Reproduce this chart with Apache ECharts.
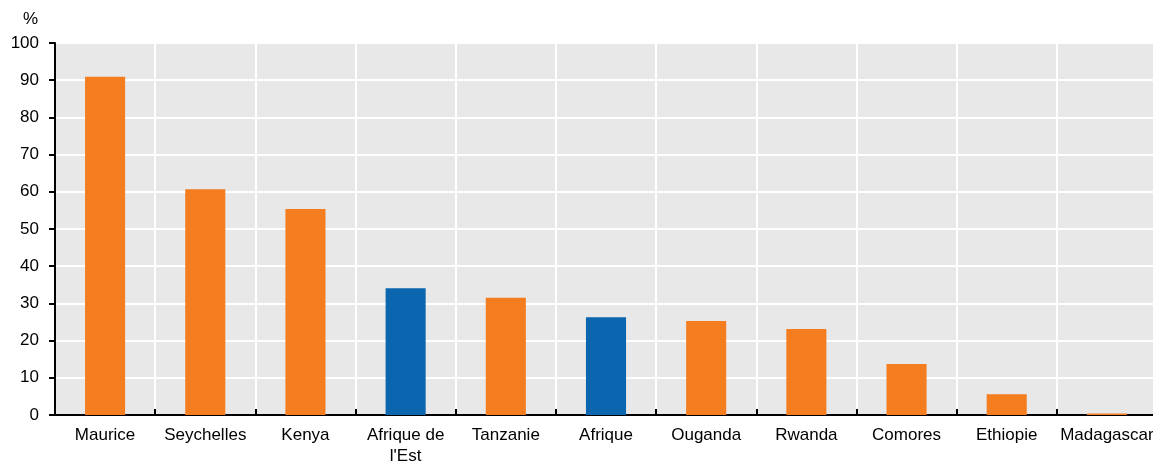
<!DOCTYPE html>
<html><head><meta charset="utf-8">
<script src="https://cdn.jsdelivr.net/npm/echarts@6/dist/echarts.min.js"></script>
<style>html,body{margin:0;padding:0;background:#fff}#c{width:1153px;height:463px}</style>
</head><body><div id="c"></div>
<script>
const categories = ["Maurice","Seychelles","Kenya","Afrique de\nl'Est","Tanzanie","Afrique","Ouganda","Rwanda","Comores","Ethiopie","Madagascar"];
const values = [90.9, 60.7, 55.4, 34.1, 31.5, 26.3, 25.3, 23.1, 13.7, 5.6, 0.4];
const isRegion = [false,false,false,true,false,true,false,false,false,false,false];
const yTicks = {min:0, max:100, interval:10};
const ORANGE = '#F47D20', BLUE = '#0B66AF';
const FONT = '"Liberation Sans Narrow", "Liberation Sans", Arial, sans-serif';
const chart = echarts.init(document.getElementById('c'));
chart.setOption({
  animation:false,
  grid:{left:55, top:43, width:1102, height:372, show:true, backgroundColor:'#e8e8e8', borderWidth:0,
        containLabel:false, outerBoundsMode:'none'},
  graphic:[{type:'text', left:23, top:11, style:{text:'%', font:'17px '+FONT, fill:'#000'}}],
  xAxis:{type:'category', data:categories,
    axisLine:{lineStyle:{color:'#000', width:2}},
    axisTick:{show:true, inside:true, length:6, lineStyle:{color:'#000', width:2}},
    axisLabel:{color:'#000', fontSize:17, fontFamily:FONT, margin:10, lineHeight:21, interval:0},
    splitLine:{show:true, lineStyle:{color:'#fff', width:2}}},
  yAxis:{type:'value', min:yTicks.min, max:yTicks.max, interval:yTicks.interval,
    axisLine:{show:true, lineStyle:{color:'#000', width:2}},
    axisTick:{show:true, length:6, lineStyle:{color:'#000', width:2}},
    axisLabel:{color:'#000', fontSize:17, fontFamily:FONT, margin:16, padding:[3,0,0,0]},
    splitLine:{show:true, lineStyle:{color:'#fff', width:2}}},
  series:[{type:'bar', barWidth:'40%',
    data:values.map((v,i)=>({value:v, itemStyle:{color:isRegion[i]?BLUE:ORANGE}}))}]
});
</script></body></html>
